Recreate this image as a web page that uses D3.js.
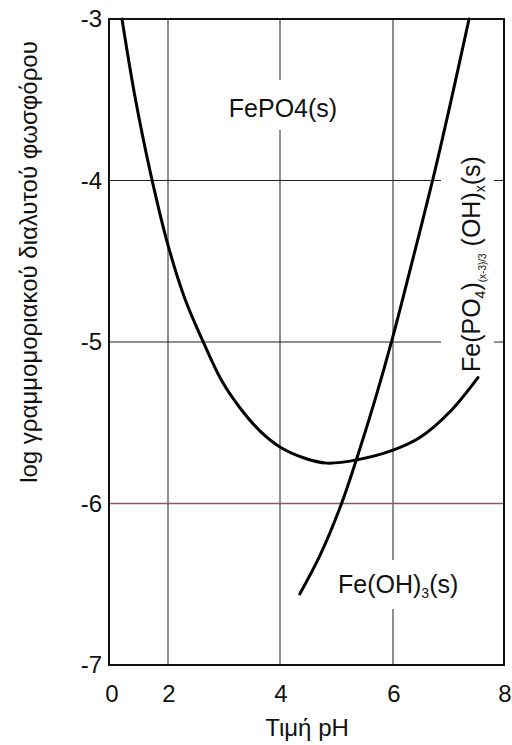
<!DOCTYPE html>
<html>
<head>
<meta charset="utf-8">
<script src="https://cdn.jsdelivr.net/npm/d3@7"></script>
<style>
  html, body { margin: 0; padding: 0; background: #fff; }
  svg { display: block; font-family: "Liberation Sans", Arial, sans-serif; }
</style>
</head>
<body>
<svg id="chart" width="512" height="745"></svg>
<script>
// ---- data ----
const xTicks = [0, 2, 4, 6, 8];
const yTicks = [-3, -4, -5, -6, -7];
// Fe(PO4)(x-3)/3(OH)x(s) solubility curve (U-shaped)
const phosphatePH  = [0.44, 0.88, 1.39, 2.0, 2.30, 2.63, 2.96, 3.29, 3.64, 4.0, 4.44, 4.83, 5.36, 6.0, 6.49, 7.03, 7.53];
const phosphateLog = [-3.0, -3.48, -3.94, -4.40, -4.73, -5.0, -5.24, -5.41, -5.55, -5.65, -5.72, -5.75, -5.73, -5.67, -5.59, -5.43, -5.22];
// Fe(OH)3(s) curve
const hydroxPH  = [4.35, 4.71, 5.10, 5.36, 5.68, 5.98, 6.34, 6.72, 7.03, 7.37];
const hydroxLog = [-6.56, -6.32, -5.99, -5.72, -5.36, -4.99, -4.51, -3.99, -3.53, -3.0];
const xTitle = "Τιμή pH";
const yTitle = "log γραμμομοριακού διαλυτού φωσφόρου";

// ---- scales ----
const svg = d3.select("#chart");
const x = d3.scaleLinear().domain(xTicks).range([109, 168, 280, 393, 504]);
const y = d3.scaleLinear().domain([-7, -3]).range([665, 19]);

// ---- grid ----
const grid = svg.append("g");
grid.selectAll("line.v").data(xTicks.slice(1, -1)).join("line")
  .attr("x1", d => x(d)).attr("x2", d => x(d))
  .attr("y1", y(-3)).attr("y2", y(-7))
  .attr("stroke", "#444").attr("stroke-width", 1.2);
grid.selectAll("line.h").data(yTicks.slice(1, -1)).join("line")
  .attr("x1", x(0)).attr("x2", x(8))
  .attr("y1", d => y(d)).attr("y2", d => y(d))
  .attr("stroke", d => d === -6 ? "#8a5868" : "#222")
  .attr("stroke-width", d => d === -6 ? 1.6 : 1.2);

// ---- labels inside plot (with white halos that break gridlines) ----
const halo = svg.append("g");
const labels = svg.append("g").attr("fill", "#111");

const lab1 = labels.append("text")
  .attr("x", 283).attr("y", 117)
  .attr("text-anchor", "middle")
  .attr("font-size", 25)
  .text("FePO4(s)");

const lab2 = labels.append("text")
  .attr("x", 338).attr("y", 593)
  .attr("font-size", 25);
lab2.append("tspan").text("Fe(OH)");
lab2.append("tspan").attr("font-size", 14).attr("dy", 5).text("3");
lab2.append("tspan").attr("dy", -5).text("(s)");

const lab3 = labels.append("text")
  .attr("transform", "translate(480,372) rotate(-90)")
  .attr("font-size", 25);
lab3.append("tspan").text("Fe(PO");
lab3.append("tspan").attr("font-size", 14).attr("dy", 5).text("4");
lab3.append("tspan").attr("dy", -5).text(")");
lab3.append("tspan").attr("font-size", 10).attr("dy", 6).text("(x-3)/3");
lab3.append("tspan").attr("dy", -6).text(" (OH)");
lab3.append("tspan").attr("font-size", 14).attr("dy", 5).text("x");
lab3.append("tspan").attr("dy", -5).text("(s)");

function addHalo(sel, padL, padT, padR, padB, rotated) {
  const b = sel.node().getBBox();
  if (!rotated) {
    halo.append("rect")
      .attr("x", b.x - padL).attr("y", b.y - padT)
      .attr("width", b.width + padL + padR).attr("height", b.height + padT + padB)
      .attr("fill", "#fff");
  } else {
    // rotated -90 about (480,372): local (lx,ly) -> (480+ly, 372-lx)
    const x0 = 480 + b.y, x1 = 480 + b.y + b.height;
    const y0 = 372 - (b.x + b.width), y1 = 372 - b.x;
    halo.append("rect")
      .attr("x", x0 - padL).attr("y", y0 - padT)
      .attr("width", x1 - x0 + padL + padR).attr("height", y1 - y0 + padT + padB)
      .attr("fill", "#fff");
  }
}
addHalo(lab1, 2, 14, 2, 8, false);
addHalo(lab2, 2, 10, 2, 8, false);
addHalo(lab3, 16, 4, 6, 4, true);

// ---- curves ----
const line = d3.line().x(d => x(d[0])).y(d => y(d[1])).curve(d3.curveCatmullRom.alpha(0.5));
svg.append("path")
  .datum(d3.zip(phosphatePH, phosphateLog))
  .attr("d", line)
  .attr("fill", "none").attr("stroke", "#000").attr("stroke-width", 3).attr("stroke-linecap", "round");
svg.append("path")
  .datum(d3.zip(hydroxPH, hydroxLog))
  .attr("d", line)
  .attr("fill", "none").attr("stroke", "#000").attr("stroke-width", 3).attr("stroke-linecap", "round");

// ---- frame ----
svg.append("rect")
  .attr("x", x(0)).attr("y", y(-3))
  .attr("width", x(8) - x(0)).attr("height", y(-7) - y(-3))
  .attr("fill", "none").attr("stroke", "#111").attr("stroke-width", 2);

// ---- tick labels ----
svg.append("g").selectAll("text").data(yTicks).join("text")
  .attr("x", 102).attr("y", d => y(d) + 8)
  .attr("text-anchor", "end").attr("font-size", 24).attr("fill", "#111")
  .text(d => String(d));
svg.append("g").selectAll("text").data(xTicks).join("text")
  .attr("x", d => x(d) + (d === 0 ? 3 : 1)).attr("y", 702)
  .attr("text-anchor", "middle").attr("font-size", 24).attr("fill", "#111")
  .text(d => d);

// ---- axis titles ----
svg.append("text")
  .attr("x", 307).attr("y", 736)
  .attr("text-anchor", "middle").attr("font-size", 24).attr("fill", "#111")
  .text(xTitle);
svg.append("text")
  .attr("transform", "translate(37,262) rotate(-90)")
  .attr("text-anchor", "middle").attr("font-size", 24).attr("fill", "#111")
  .text(yTitle);
</script>
</body>
</html>
